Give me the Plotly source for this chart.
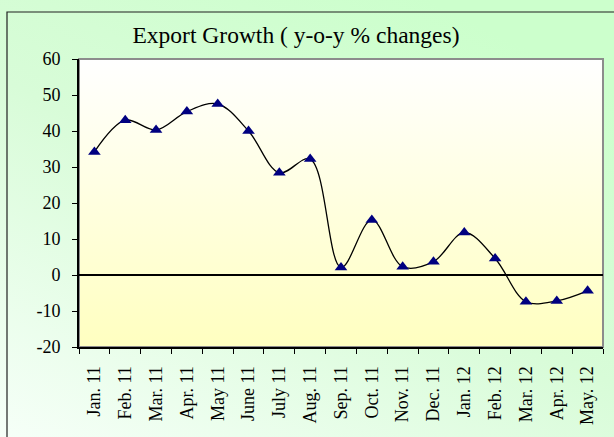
import base64
import plotly.graph_objects as go

months = ["Jan. 11", "Feb. 11", "Mar. 11", "Apr. 11", "May 11", "June 11", "July 11",
          "Aug. 11", "Sep. 11", "Oct. 11", "Nov. 11", "Dec. 11", "Jan. 12", "Feb. 12",
          "Mar. 12", "Apr. 12", "May. 12"]
growth = [34.2, 43.0, 40.3, 45.4, 47.5, 40.0, 28.4, 32.2, 2.1, 15.3, 2.3, 3.7, 11.8, 4.6,
          -7.4, -7.2, -4.4]
y_ticks = [-20, -10, 0, 10, 20, 30, 40, 50, 60]
y_tick_labels = ["-20", "-10", "0", "10", "20", "30", "40", "50", "60"]
title_text = "Export Growth ( y-o-y % changes)"

W, H = 614, 437
L, R, T, B = 79, 11, 59, 90
pw, ph = W - L - R, H - T - B


def svg_uri(svg):
    return "data:image/svg+xml;base64," + base64.b64encode(svg.encode()).decode()


paper_svg = ('<svg xmlns="http://www.w3.org/2000/svg" width="100" height="100" preserveAspectRatio="none">'
             '<defs><linearGradient id="g" x1="0" y1="1" x2="0.7" y2="0">'
             '<stop offset="0" stop-color="#f6fff8"/><stop offset="0.55" stop-color="#d8fcd8"/>'
             '<stop offset="1" stop-color="#ccffcc"/></linearGradient></defs>'
             '<rect width="100" height="100" fill="url(#g)"/></svg>')
plot_svg = ('<svg xmlns="http://www.w3.org/2000/svg" width="100" height="100" preserveAspectRatio="none">'
            '<defs><linearGradient id="g" x1="0" y1="0" x2="0" y2="1">'
            '<stop offset="0" stop-color="#ffffff"/><stop offset="1" stop-color="#ffffc0"/>'
            '</linearGradient></defs><rect width="100" height="100" fill="url(#g)"/></svg>')

fig = go.Figure()
fig.add_trace(go.Scatter(
    x=months, y=growth, mode="lines+markers",
    line=dict(color="black", width=1.3, shape="spline", smoothing=1),
    marker=dict(symbol="triangle-up", size=11, color="#000080"),
    showlegend=False, cliponaxis=False,
))

fx = lambda px: (px - L) / pw
fy = lambda py: (H - B - py) / ph

fig.update_layout(
    width=W, height=H,
    margin=dict(l=L, r=R, t=T, b=B),
    paper_bgcolor="#e0ffe0",
    plot_bgcolor="rgba(0,0,0,0)",
    font=dict(family="Liberation Serif, Times New Roman, serif", color="black", size=18),
    title=dict(text=title_text, x=fx(296), xanchor="center", xref="paper",
               y=1 - 35 / H, yanchor="middle", font=dict(size=23.5)),
    images=[
        dict(source=svg_uri(paper_svg), xref="paper", yref="paper", x=fx(0), y=fy(0),
             sizex=W / pw, sizey=H / ph, sizing="stretch", layer="below",
             xanchor="left", yanchor="top"),
        dict(source=svg_uri(plot_svg), xref="paper", yref="paper", x=0, y=1,
             sizex=1, sizey=1, sizing="stretch", layer="below",
             xanchor="left", yanchor="top"),
    ],
    shapes=[
        dict(type="rect", xref="paper", yref="paper", x0=fx(7), x1=fx(630), y0=fy(460), y1=fy(12),
             line=dict(color="#202020", width=1.2), fillcolor="rgba(0,0,0,0)", layer="below"),
        dict(type="rect", xref="paper", yref="paper", x0=0, x1=1, y0=0, y1=1,
             line=dict(color="#8c8c8c", width=2), fillcolor="rgba(0,0,0,0)", layer="below"),
    ],
    xaxis=dict(
        type="category", range=[-0.5, len(months) - 0.5], tickangle=-90,
        showline=True, linecolor="black", linewidth=2,
        ticks="outside", tickson="boundaries", ticklen=5, tickcolor="black", tickwidth=1,
        showgrid=False, zeroline=False, ticklabelstandoff=10,
        tickfont=dict(size=18),
    ),
    yaxis=dict(
        range=[-20, 60], tickvals=y_ticks, ticktext=y_tick_labels,
        showline=True, linecolor="black", linewidth=2,
        ticks="outside", ticklen=5, tickcolor="black", tickwidth=1,
        showgrid=False, zeroline=True, zerolinecolor="black", zerolinewidth=1.5,
        ticklabelstandoff=8, tickfont=dict(size=18),
    ),
)

fig.write_html("out.html", config={"displayModeBar": False},
               post_script="document.body.style.margin='0';document.body.style.overflow='hidden';")
